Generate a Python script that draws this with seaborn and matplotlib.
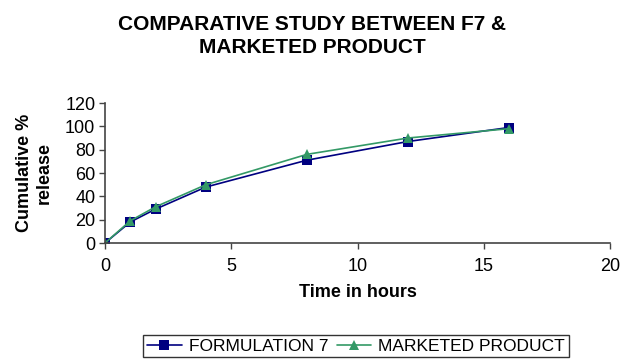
import pandas as pd
import seaborn as sns
import matplotlib.pyplot as plt

time_h = [0, 1, 2, 4, 8, 12, 16]
formulation7 = [0, 18, 29, 48, 71, 87, 99]
marketed = [0, 19, 31, 50, 76, 90, 98]

df = pd.DataFrame({
    "time": time_h * 2,
    "release": formulation7 + marketed,
    "series": ["FORMULATION 7"] * len(time_h) + ["MARKETED PRODUCT"] * len(time_h),
})

sns.set_style("white")
plt.rcParams["font.family"] = ["Liberation Sans", "DejaVu Sans"]
plt.rcParams["text.color"] = "black"
plt.rcParams["axes.labelcolor"] = "black"
plt.rcParams["xtick.color"] = "black"
plt.rcParams["ytick.color"] = "black"

fig = plt.figure(figsize=(6.21, 3.6), dpi=100)
ax = fig.add_axes([105 / 621, 1 - 243 / 360, (610 - 105) / 621, (243 - 103) / 360])

palette = {"FORMULATION 7": "#000080", "MARKETED PRODUCT": "#339966"}
markers = {"FORMULATION 7": "s", "MARKETED PRODUCT": "^"}
sns.lineplot(data=df, x="time", y="release", hue="series", style="series",
             palette=palette, markers=markers, dashes=False, markersize=7.5,
             markeredgewidth=0, linewidth=1.2, ax=ax)

ax.set_xlim(0, 20)
ax.set_ylim(0, 120)
ax.set_xticks([0, 5, 10, 15, 20])
ax.set_yticks(range(0, 121, 20))
for s in ["top", "right"]:
    ax.spines[s].set_visible(False)
for s in ["left", "bottom"]:
    ax.spines[s].set_color("#444444")
    ax.spines[s].set_linewidth(1.2)
ax.tick_params(axis="both", labelsize=13, length=4, width=1, color="#444444",
               bottom=True, left=True)
ax.tick_params(axis="x", pad=7)
ax.tick_params(axis="y", pad=3)

ax.set_xlabel("Time in hours", fontsize=13, fontweight="bold", labelpad=6)
ax.set_ylabel("Cumulative %\nrelease", fontsize=13, fontweight="bold", labelpad=9)

fig.text(312 / 621, 1 - 36 / 360, "COMPARATIVE STUDY BETWEEN F7 &\nMARKETED PRODUCT",
         ha="center", va="center", fontsize=15, fontweight="bold", linespacing=1.3)

ax.legend(loc="center", bbox_to_anchor=(356 / 621, 1 - 346 / 360),
          bbox_transform=fig.transFigure, ncol=2, frameon=True, fancybox=False,
          edgecolor="black", fontsize=12.5, handlelength=2.0, columnspacing=0.5,
          handletextpad=0.4, borderpad=0.2, borderaxespad=0, title=None)
ax.get_legend().get_frame().set_linewidth(1.0)

fig.savefig("out.png", dpi=100)
